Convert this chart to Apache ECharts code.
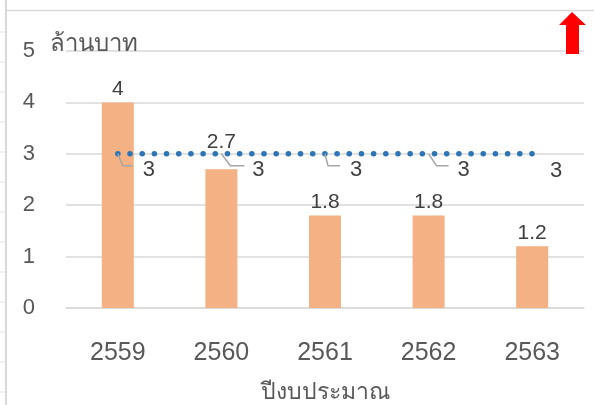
<!DOCTYPE html>
<html>
<head>
<meta charset="utf-8">
<script src="https://cdn.jsdelivr.net/npm/echarts@6/dist/echarts.min.js"></script>
<style>
  html, body { margin: 0; padding: 0; background: #fff; }
  #chart { width: 594px; height: 405px; }
</style>
</head>
<body>
<div id="chart"></div>
<script>
// Budget years (Thai Buddhist calendar)
const years = ['2559', '2560', '2561', '2562', '2563'];
// Budget spent, million baht (bars)
const budget = [4, 2.7, 1.8, 1.8, 1.2];
// Target level, million baht (dotted line)
const target = [3, 3, 3, 3, 3];
// Value-axis ticks
const yTicks = { min: 0, max: 5, step: 1 };

// Extra lift (px) of each bar label, to keep it clear of the target line
const barLabelLift = [0, 14, 0, 0, 0];
// Placement of the target-line labels relative to each point: [dx, dy] text centre,
// and the elbow of its leader line (null = no leader)
const targetLabelShift = [[31, 16], [37, 16], [31, 16], [35, 16], [24, 17]];
const targetLeader = [[5, 15], [9, 23], [3, 15], [8, 20], null];

const FONT = "'Liberation Sans', 'Noto Sans', sans-serif";
const TEXT = '#595959';
const GRID = '#D9D9D9';

const chart = echarts.init(document.getElementById('chart'), null, { renderer: 'canvas' });

// Sheet cell borders on the far left
const sheetLines = [];
for (let y = 32; y < 405; y += 30) {
  sheetLines.push({ type: 'line', shape: { x1: 0, y1: y, x2: 5, y2: y }, style: { stroke: '#E3E3E3', lineWidth: 1 }, silent: true });
}

chart.setOption({
  animation: false,
  textStyle: { fontFamily: FONT },
  grid: { left: 66, right: 10, top: 51, bottom: 97, containLabel: false, outerBoundsMode: 'none' },
  xAxis: {
    type: 'category',
    data: years,
    name: 'ปีงบประมาณ',
    nameLocation: 'middle',
    nameGap: 73,
    nameTextStyle: { color: TEXT, fontSize: 23, fontFamily: FONT },
    axisLine: { show: true, lineStyle: { color: GRID, width: 1.5 } },
    axisTick: { show: false },
    axisLabel: { color: TEXT, fontSize: 25, margin: 33, fontFamily: FONT }
  },
  yAxis: {
    type: 'value',
    min: yTicks.min,
    max: yTicks.max,
    interval: yTicks.step,
    axisLine: { show: false },
    axisTick: { show: false },
    splitLine: { lineStyle: { color: GRID, width: 1.5 } },
    axisLabel: { color: TEXT, fontSize: 22, margin: 31, fontFamily: FONT }
  },
  series: [
    {
      type: 'bar',
      data: budget.map((v, i) => ({
        value: v,
        label: { distance: 3 + barLabelLift[i] }
      })),
      barWidth: 32,
      itemStyle: { color: '#F4B183' },
      label: { show: true, position: 'top', color: '#404040', fontSize: 21, fontFamily: FONT },
      z: 2
    },
    {
      type: 'line',
      data: target,
      symbol: 'none',
      lineStyle: { color: '#2E75B6', width: 5.5, type: [0.1, 12.08], cap: 'round' },
      z: 3
    },
    {
      // labels of the target line with their leader lines
      type: 'custom',
      data: target.map((v, i) => [i, v]),
      z: 4,
      renderItem: function (params, api) {
        const i = params.dataIndex;
        const p = api.coord([api.value(0), api.value(1)]);
        const s = targetLabelShift[i];
        const children = [];
        const l = targetLeader[i];
        if (l) {
          children.push({
            type: 'polyline',
            shape: { points: [[p[0], p[1]], [p[0] + l[0], p[1] + 12], [p[0] + l[1], p[1] + 12]] },
            style: { stroke: '#A6A6A6', lineWidth: 1.5, fill: null }
          });
        }
        children.push({
          type: 'text',
          style: {
            text: String(api.value(1)),
            x: p[0] + s[0], y: p[1] + s[1],
            align: 'center', verticalAlign: 'middle',
            fill: '#404040', font: '22px ' + FONT
          }
        });
        return { type: 'group', children: children };
      }
    }
  ],
  graphic: [
    // chart frame edges
    { type: 'line', shape: { x1: 6, y1: 0, x2: 6, y2: 405 }, style: { stroke: '#D9D9D9', lineWidth: 2 }, silent: true },
    { type: 'line', shape: { x1: 7, y1: 10.5, x2: 594, y2: 10.5 }, style: { stroke: '#D9D9D9', lineWidth: 1.5 }, silent: true },
    // value-axis unit
    {
      type: 'text', left: 50, top: 32, silent: true, z: 5,
      style: { text: 'ล้านบาท', fill: TEXT, font: '24px ' + FONT }
    },
    // upward red arrow
    {
      type: 'polygon',
      shape: { points: [[572, 12], [586, 25], [579, 25], [579, 54], [566, 54], [566, 25], [559, 25]] },
      style: { fill: '#FF0000' },
      silent: true, z: 10
    }
  ].concat(sheetLines)
});
</script>
</body>
</html>
